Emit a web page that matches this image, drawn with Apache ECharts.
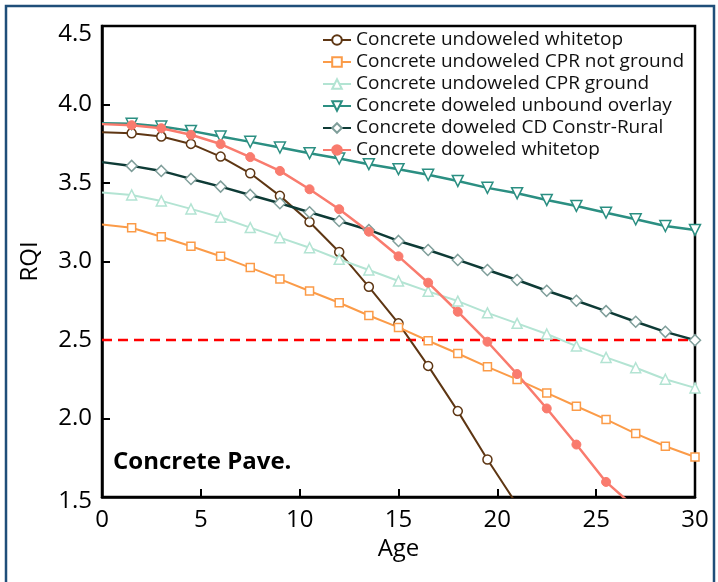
<!DOCTYPE html>
<html><head><meta charset="utf-8">
<script src="https://cdn.jsdelivr.net/npm/echarts@6/dist/echarts.min.js"></script>
<style>html,body{margin:0;padding:0;background:#fff}#c{width:718px;height:582px}</style>
</head><body><div id="c"></div>
<script>
// Age (years) at which values are read
const ages = [0,1.5,3,4.5,6,7.5,9,10.5,12,13.5,15,16.5,18,19.5,21,22.5,24,25.5,27,28.5,30];

const seriesNames = [
  'Concrete undoweled whitetop',
  'Concrete undoweled CPR not ground',
  'Concrete undoweled CPR ground',
  'Concrete doweled unbound overlay',
  'Concrete doweled CD Constr-Rural',
  'Concrete doweled whitetop'
];

const undoweledWhitetop = [3.824,3.817,3.796,3.749,3.668,3.562,3.418,3.252,3.061,2.839,2.606,2.335,2.047,1.739,1.45];
const undoweledCprNotGround = [3.235,3.215,3.158,3.097,3.033,2.961,2.888,2.812,2.737,2.656,2.58,2.495,2.414,2.329,2.249,2.163,2.078,1.994,1.904,1.823,1.755];
const undoweledCprGround = [3.439,3.424,3.386,3.335,3.282,3.216,3.152,3.088,3.014,2.946,2.876,2.81,2.748,2.673,2.606,2.538,2.461,2.389,2.323,2.25,2.195];
const doweledUnboundOverlay = [3.881,3.877,3.86,3.832,3.796,3.762,3.726,3.69,3.656,3.62,3.588,3.552,3.513,3.469,3.435,3.392,3.354,3.311,3.269,3.226,3.201];
const doweledCdConstrRural = [3.633,3.609,3.577,3.526,3.477,3.424,3.371,3.314,3.258,3.201,3.131,3.073,3.01,2.946,2.882,2.814,2.75,2.684,2.616,2.552,2.499];
const doweledWhitetop = [3.875,3.868,3.849,3.807,3.748,3.665,3.577,3.46,3.333,3.19,3.033,2.865,2.68,2.489,2.283,2.064,1.834,1.596,1.43];

const thresholdAges = [0,30];
const thresholdValue = 2.5;
const panelLabel = 'Concrete Pave.';

function toData(vals){
  return vals.map((v,i)=> i===0 ? {value:[ages[i],v], symbol:'none'} : [ages[i],v]);
}

const FONT = '"Open Sans", sans-serif';

function mk(name, vals, color, symbol, size, lw, opts){
  opts = opts || {};
  return {
    name, type:'line', data: toData(vals),
    symbol, symbolSize: size, symbolRotate: opts.rotate || 0,
    showAllSymbol: true,
    clip: true,
    lineStyle:{color: color, width: lw},
    itemStyle: opts.filled ? {color: color, borderColor: color, borderWidth: 1}
                           : {color:'#fff', borderColor: opts.border || color, borderWidth: 1.5},
    emphasis:{disabled:true},
    z: opts.z || 2
  };
}

const chart = echarts.init(document.getElementById('c'), null, {renderer:'canvas'});
chart.setOption({
  animation:false,
  backgroundColor:'#fff',
  grid:{left:102, right:23, top:26, bottom:85, show:true, borderColor:'#000', borderWidth:2.5, outerBoundsMode:'none', containLabel:false},
  legend:{
    data: seriesNames,
    orient:'vertical', left:322, top:30, padding:0,
    itemWidth:28, itemHeight:12, itemGap:2,
    textStyle:{fontFamily:FONT, fontSize:19, lineHeight:20, color:'#111'},
    selectedMode:false
  },
  xAxis:{
    type:'value', min:0, max:30, interval:5,
    name:'Age', nameLocation:'middle', nameGap:38,
    nameTextStyle:{fontFamily:FONT, fontSize:24, color:'#000'},
    axisLine:{show:true, lineStyle:{color:'#000', width:2.5}},
    axisTick:{show:true, inside:true, length:8, lineStyle:{color:'#000', width:2}},
    axisLabel:{fontFamily:FONT, fontSize:24, color:'#000', margin:11},
    splitLine:{show:false}
  },
  yAxis:{
    type:'value', min:1.5, max:4.5, interval:0.5,
    name:'RQI', nameLocation:'middle', nameGap:60,
    nameTextStyle:{fontFamily:FONT, fontSize:24, color:'#000'},
    axisLine:{show:true, lineStyle:{color:'#000', width:2.5}},
    axisTick:{show:true, inside:true, length:8, lineStyle:{color:'#000', width:2}},
    axisLabel:{fontFamily:FONT, fontSize:24, color:'#000', margin:10,
      formatter: v => v===4.5 ? '{t|4.5}' : (v===1.5 ? '{b|1.5}' : v.toFixed(1)),
      rich:{t:{fontFamily:FONT, fontSize:24, color:'#000', padding:[16,0,0,0]},
            b:{fontFamily:FONT, fontSize:24, color:'#000', padding:[8,0,0,0]}}
    },
    splitLine:{show:false}
  },
  graphic:[
    {type:'rect', shape:{x:6, y:6, width:708, height:620}, style:{fill:'none', stroke:'#1f4e79', lineWidth:2.5}, silent:true},
    {type:'text', left:113, top:450, style:{text:panelLabel, font:'bold 24px "Open Sans", sans-serif', fill:'#000'}, silent:true}
  ],
  series:[
    {name:'threshold', type:'line', data: thresholdAges.map(a=>[a,thresholdValue]), symbol:'none',
      lineStyle:{color:'#ff0000', width:2.5, type:[10,6]}, z:1, emphasis:{disabled:true}},
    mk(seriesNames[0], undoweledWhitetop, '#5e3613', 'circle', 9, 2),
    mk(seriesNames[1], undoweledCprNotGround, '#fb9b48', 'rect', 8, 2),
    mk(seriesNames[2], undoweledCprGround, '#b3e4d3', 'triangle', 10, 2),
    mk(seriesNames[3], doweledUnboundOverlay, '#2b8f82', 'triangle', 11, 2.5, {rotate:180}),
    mk(seriesNames[4], doweledCdConstrRural, '#0e3b36', 'diamond', 11, 2.5, {border:'#7f9e9a'}),
    mk(seriesNames[5], doweledWhitetop, '#f97b6e', 'circle', 9, 2.5, {filled:true})
  ]
});
</script></body></html>
